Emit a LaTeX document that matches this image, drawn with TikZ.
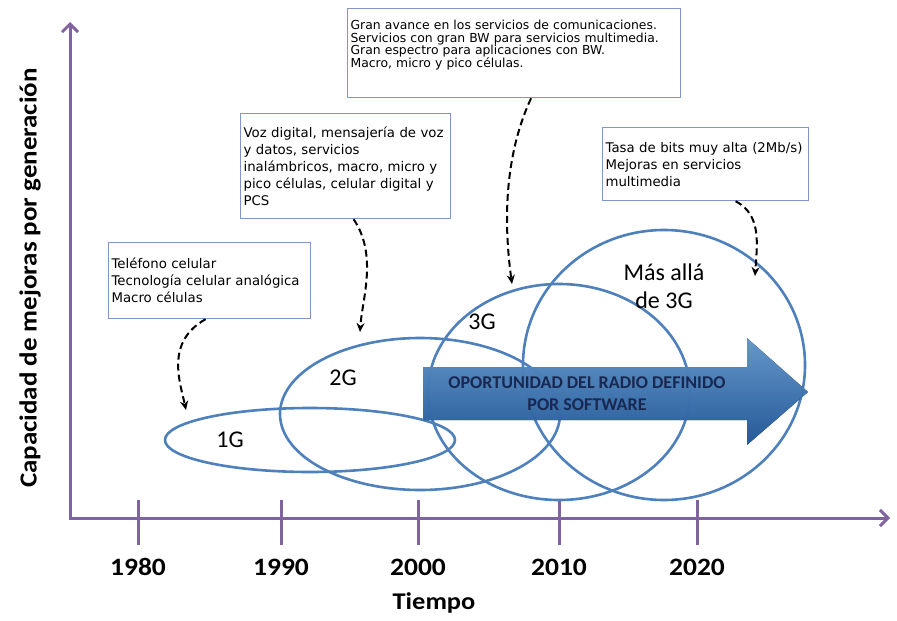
\documentclass[tikz,border=0pt]{standalone}
\usepackage{fontspec}
\setmainfont{Carlito}
\newfontfamily\boxfont{DejaVu Sans}
\newfontfamily\ejefont{Carlito}[FakeStretch=1.1]
\newcommand\letracaja[2]{\boxfont\fontsize{#1}{#2}\selectfont\setlength{\lineskiplimit}{-8pt}\relax}
\usetikzlibrary{arrows.meta}
\definecolor{ejes}{RGB}{128,100,162}
\definecolor{azulgen}{RGB}{78,128,188}
\definecolor{marco}{RGB}{125,152,200}
\definecolor{flechaA}{RGB}{110,168,225}
\definecolor{flechaB}{RGB}{38,98,170}
\definecolor{texflecha}{RGB}{25,40,80}

\begin{document}
\begin{tikzpicture}[x=1pt,y=-1pt,
  eje/.style={draw=ejes,line width=3pt},
  generacion/.style={draw=azulgen,line width=2.6pt},
  caja/.style={draw=marco,line width=1.2pt,fill=white,anchor=north west,
    align=left,inner xsep=3pt,font=\letracaja{13.3}{17}},
  punteada/.style={black,line width=2pt,dash pattern=on 7pt off 4pt,-{Stealth[length=9pt,width=8pt]}},
  etiq/.style={font=\fontsize{24}{28}\selectfont},
  negrita/.style={font=\ejefont\bfseries\fontsize{25}{28}\selectfont}]
\useasboundingbox (0,0) rectangle (897,621);

% ejes
\coordinate (ytop) at (70,22);
\coordinate (o) at (70,518);
\coordinate (xend) at (890,518);
\draw[eje,{Straight Barb[length=8pt,width=16pt]}-{Straight Barb[length=8pt,width=16pt]}] (ytop) -- (o) -- (xend);
\foreach \x/\anio in {138/1980,281/1990,418/2000,559/2010,697/2020}{
  \draw[eje] (\x,500) -- (\x,545);
  \node[negrita] (a\anio) at (\x,567) {\anio};
}
\node[negrita,font=\ejefont\bfseries\fontsize{24}{28}\selectfont] (tiempo) at (434,603) {Tiempo};
\node[negrita,rotate=90,font=\ejefont\bfseries\fontsize{24.5}{28}\selectfont] (capacidad) at (30,278) {Capacidad de mejoras por generación};

% generaciones
\draw[generacion] (310,440) ellipse [x radius=145, y radius=32];
\draw[generacion] (420,414) ellipse [x radius=140, y radius=76];
\draw[generacion] (559,392) ellipse [x radius=131, y radius=108];
\draw[generacion] (664,365) ellipse [x radius=141, y radius=135];
\node[etiq] (g1) at (230,440) {1G};
\node[etiq] (g2) at (343,378) {2G};
\node[etiq] (g3) at (482,322) {3G};
\node[etiq,align=center] (g4) at (664,286) {Más allá\\de 3G};

% flecha SDR
\fill[top color=flechaA,bottom color=flechaB,fill opacity=0.88]
  (423,367) -- (747,367) -- (747,338) -- (808,392) -- (747,445) -- (747,420) -- (423,420) -- cycle;
\node[font=\bfseries\fontsize{18}{22}\selectfont,text=texflecha,align=center] (sdr) at (587,394)
  {OPORTUNIDAD DEL RADIO DEFINIDO\\POR SOFTWARE};

% cajas
\node[caja,text width=196pt,minimum height=76pt] (c1) at (108,242)
  {Teléfono celular\\Tecnología celular analógica\\Macro células};
\node[caja,text width=204pt,minimum height=105pt] (c2) at (240,113)
  {Voz digital, mensajería de voz\\y datos, servicios\\inalámbricos, macro, micro y\\pico células, celular digital y\\PCS};
\node[caja,text width=327pt,minimum height=89pt,font=\letracaja{12.4}{14.5}] (c3) at (347,8)
  {Gran avance en los servicios de comunicaciones.\\[-2pt]Servicios con gran BW para servicios multimedia.\\[-2pt]Gran espectro para aplicaciones con BW.\\[-2pt]Macro, micro y pico células.\\[4pt] \mbox{}};
\node[caja,text width=200pt,minimum height=73pt] (c4) at (602,127)
  {Tasa de bits muy alta (2Mb/s)\\Mejoras en servicios\\multimedia};

% flechas punteadas
\coordinate (p1) at (186,410);
\coordinate (p2) at (360,332);
\coordinate (p3) at (512,284);
\coordinate (p4) at (755,276);
\draw[punteada] ([xshift=-4pt]c1.south) .. controls (165,342) and (180,382) .. (p1);
\draw[punteada] ([xshift=8pt]c2.south) .. controls (378,255) and (362,300) .. (p2);
\draw[punteada] ([xshift=17pt]c3.south) .. controls (500,165) and (506,240) .. (p3);
\draw[punteada] ([xshift=30pt]c4.south) .. controls (762,215) and (757,245) .. (p4);
\end{tikzpicture}
\end{document}
